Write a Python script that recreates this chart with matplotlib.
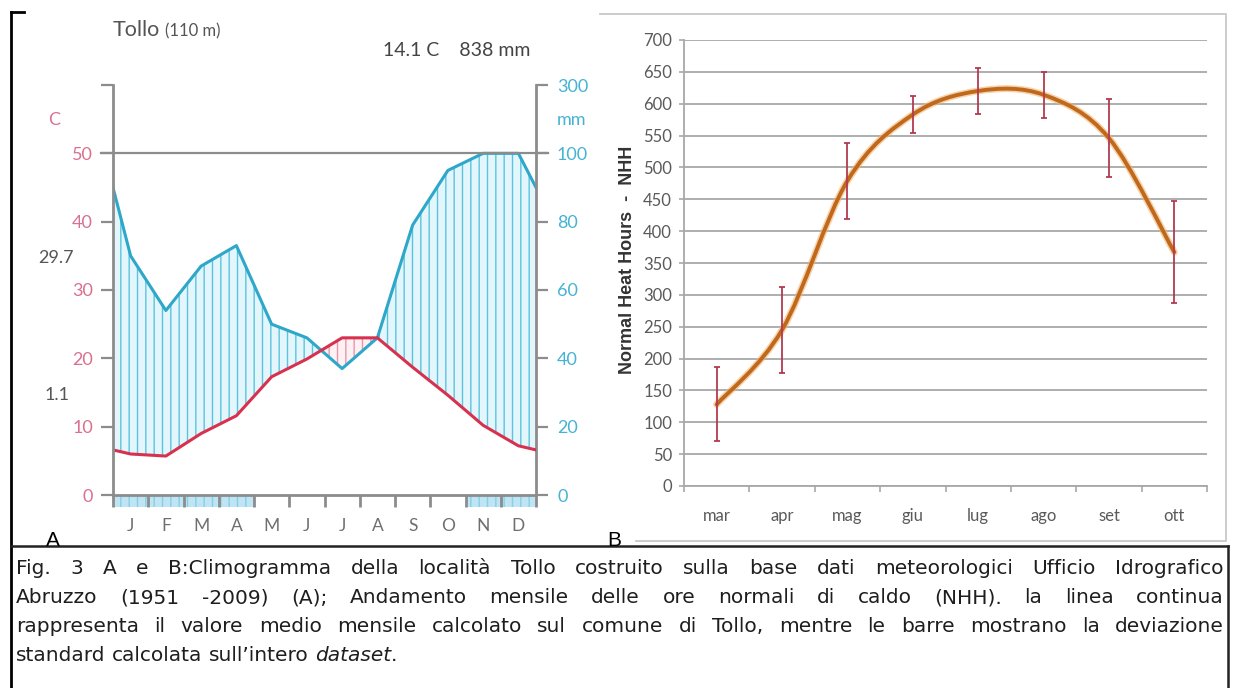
import numpy as np
import matplotlib
matplotlib.use("Agg")
import matplotlib.pyplot as plt
from matplotlib.path import Path
from matplotlib.patches import PathPatch
from matplotlib.lines import Line2D

# ---------------- data ----------------
# Panel A: climate diagram (Walter-Lieth style), Tollo
months = ["J", "F", "M", "A", "M", "J", "J", "A", "S", "O", "N", "D"]
temp_c = [6.0, 5.7, 9.0, 11.6, 17.3, 19.9, 23.0, 23.0, 18.7, 14.6, 10.2, 7.2]
precip_mm = [70, 54, 67, 73, 50, 46, 37, 46, 79, 95, 112, 110]
frost_months = [1, 1, 1, 1, 0, 0, 0, 0, 0, 0, 1, 1]
temp_ticks = [0, 10, 20, 30, 40, 50, 60]
temp_labels = ["0", "10", "20", "30", "40", "50", ""]
prec_ticks = [0, 20, 40, 60, 80, 100, 120]
prec_labels = ["0", "20", "40", "60", "80", "100", "300"]

# Panel B: Normal Heat Hours
nhh_months = ["mar", "apr", "mag", "giu", "lug", "ago", "set", "ott"]
nhh_mean = [128, 245, 479, 583, 620, 614, 546, 367]
nhh_sd = [58, 68, 60, 29, 36, 36, 61, 80]
nhh_ticks = list(range(0, 701, 50))

caption_lines = [
    "Fig. 3 A e B:Climogramma della località Tollo costruito sulla base dati meteorologici Ufficio Idrografico",
    "Abruzzo (1951 -2009) (A); Andamento mensile delle ore normali di caldo (NHH). la linea continua",
    "rappresenta il valore medio mensile calcolato sul comune di Tollo, mentre le barre mostrano la deviazione",
]
caption_last = [("standard", "normal"), ("calcolata", "normal"), ("sull\u2019intero", "normal"),
                ("dataset", "italic"), (".", "normal")]

# ---------------- figure ----------------
W, H = 1234, 688
plt.rcParams["font.family"] = ["Lato", "DejaVu Sans"]
plt.rcParams["hatch.linewidth"] = 1.0
fig = plt.figure(figsize=(W / 100, H / 100), dpi=100)
fig.patch.set_facecolor("white")


def fx(x):
    return x / W


def fy(y):
    return 1 - y / H


PT = 72 / 100  # px -> pt

GREY = "#8c8c8c"
PINK = "#d9708f"
CYAN = "#45b3d3"
RED = "#d8314f"
BLUE = "#2ea7c9"

# ---------------- panel A ----------------
axT = fig.add_axes([fx(113), fy(495), (536 - 113) / W, (495 - 85) / H])
axP = axT.twinx()
axT.set_zorder(axP.get_zorder() + 1)
axT.patch.set_visible(False)

MM_PER_C = 2  # Walter-Lieth convention: 10 C = 20 mm
centers = np.arange(12) + 0.5
x_line = np.r_[0, centers, 12]
t = np.array(temp_c)
p = np.array(precip_mm, dtype=float)
t_line = np.r_[(t[0] + t[-1]) / 2, t, (t[0] + t[-1]) / 2]
p_line = np.minimum(np.r_[(p[0] + p[-1]) / 2, p, (p[0] + p[-1]) / 2], 100)
t_mm = t_line * MM_PER_C

axP.fill_between(x_line, t_mm, p_line, where=p_line >= t_mm, interpolate=True,
                 facecolor="#e3f6fb", edgecolor="#5cc3df", hatch="||", linewidth=0)
axP.fill_between(x_line, t_mm, p_line, where=p_line < t_mm, interpolate=True,
                 facecolor="#fdf1f4", edgecolor="#e995ad", hatch="||", linewidth=0)
axP.plot(x_line, p_line, color=BLUE, lw=2.2, solid_joinstyle="round")
axT.plot(x_line, t_line, color=RED, lw=2.2, solid_joinstyle="round")

fm = np.array(frost_months, dtype=bool)
axT.bar(centers[fm], -1.75, width=1.0, bottom=0, facecolor="#bfe4f3",
        edgecolor="#86d0e6", hatch="||", linewidth=0, clip_on=False, zorder=1)

axT.axhline(50, xmin=-0.028, xmax=1.028, color=GREY, lw=1.6, clip_on=False, zorder=0.5)

axT.set_xlim(0, 12)
axT.set_ylim(0, 60)
axP.set_ylim(0, 120)

axT.set_yticks(temp_ticks)
axT.set_yticklabels(temp_labels)
axT.tick_params(axis="y", direction="out", length=12 * PT, width=1.6, color=GREY,
                labelcolor=PINK, labelsize=13, pad=8 * PT)
axP.set_yticks(prec_ticks)
axP.set_yticklabels(prec_labels)
axP.tick_params(axis="y", direction="out", length=12 * PT, width=1.6, color=GREY,
                labelcolor=CYAN, labelsize=13, pad=9 * PT)

axT.set_xticks(np.arange(13))
axT.set_xticklabels([])
axT.set_xticks(centers, minor=True)
axT.set_xticklabels(months, minor=True)
axT.tick_params(axis="x", which="major", direction="out", length=12 * PT, width=2.0, color=GREY)
axT.tick_params(axis="x", which="minor", length=0, pad=23 * PT, labelsize=12.5, labelcolor="#6f6f6f")
axP.tick_params(axis="x", which="both", length=0)

for s in ["top", "right"]:
    axT.spines[s].set_visible(False)
for s in ["left", "bottom"]:
    axT.spines[s].set_color(GREY)
    axT.spines[s].set_linewidth(2)
for s in ["left", "top", "bottom"]:
    axP.spines[s].set_visible(False)
axP.spines["right"].set_color(GREY)
axP.spines["right"].set_linewidth(2)

fig.text(fx(113), fy(30), "Tollo", fontsize=15.5, color="#555555", va="center", ha="left")
fig.text(fx(165), fy(31), "(110 m)", fontsize=12, color="#555555", va="center", ha="left")
fig.text(fx(383), fy(50), "14.1 C    838 mm", fontsize=14, color="#444444", va="center", ha="left")
fig.text(fx(74), fy(258), "29.7", fontsize=13, color="#555555", va="center", ha="right")
fig.text(fx(70), fy(395), "1.1", fontsize=13, color="#555555", va="center", ha="right")
fig.text(fx(54), fy(120), "C", fontsize=13, color=PINK, va="center", ha="center")
fig.text(fx(557), fy(120), "mm", fontsize=13, color=CYAN, va="center", ha="left")
fig.text(fx(53), fy(541), "A", fontsize=15, color="black", va="center", ha="center",
         family=["Liberation Sans", "DejaVu Sans"])

# ---------------- panel B ----------------
ax3 = fig.add_axes([fx(684), fy(486), (1207 - 684) / W, (486 - 40) / H])
xs = np.arange(len(nhh_months))
ax3.set_xlim(-0.5, len(nhh_months) - 0.5)
ax3.set_ylim(0, 700)
ax3.set_yticks(nhh_ticks)
ax3.yaxis.grid(True, color="#a8a8a8", lw=1.3)
ax3.set_axisbelow(True)
ax3.tick_params(axis="y", direction="out", length=5 * PT, width=1.2, color="#a8a8a8",
                labelcolor="#5a5a5a", labelsize=12, pad=7 * PT)
ax3.set_xticks(np.arange(len(nhh_months) + 1) - 0.5)
ax3.set_xticklabels([])
ax3.set_xticks(xs, minor=True)
ax3.set_xticklabels(nhh_months, minor=True)
ax3.tick_params(axis="x", which="major", direction="out", length=6 * PT, width=1.2, color="#a8a8a8")
ax3.tick_params(axis="x", which="minor", length=0, pad=22 * PT, labelsize=12, labelcolor="#5a5a5a")
for s in ["top", "right"]:
    ax3.spines[s].set_visible(False)
for s in ["left", "bottom"]:
    ax3.spines[s].set_color("#a8a8a8")
    ax3.spines[s].set_linewidth(1.3)

# smoothed line (Excel-like Catmull-Rom Bezier through the means)
pts = np.column_stack([xs, nhh_mean]).astype(float)
ext = np.vstack([pts[0], pts, pts[-1]])
verts = [pts[0]]
codes = [Path.MOVETO]
for i in range(len(pts) - 1):
    p0, p1, p2, p3 = ext[i], ext[i + 1], ext[i + 2], ext[i + 3]
    c1 = p1 + (p2 - p0) / 6
    c2 = p2 - (p3 - p1) / 6
    verts += [c1, c2, p2]
    codes += [Path.CURVE4] * 3
path = Path(verts, codes)
ax3.add_patch(PathPatch(path, facecolor="none", edgecolor="#f2b46f", lw=5, alpha=0.6,
                        transform=ax3.transData, zorder=3, capstyle="round"))
ax3.add_patch(PathPatch(path, facecolor="none", edgecolor="#c0681c", lw=2.8,
                        transform=ax3.transData, zorder=4, capstyle="round"))
ax3.errorbar(xs, nhh_mean, yerr=nhh_sd, fmt="none", ecolor="#b23a52", elinewidth=1.3,
             capsize=2.5, capthick=1.3, zorder=5)

fig.text(fx(628), fy(260), "Normal Heat Hours  -  NHH", rotation=90, fontsize=13,
         fontweight="bold", color="#333333", va="center", ha="center",
         family=["Liberation Sans", "DejaVu Sans"])
fig.text(fx(614), fy(541), "B", fontsize=15, color="black", va="center", ha="center",
         family=["Liberation Sans", "DejaVu Sans"])

# ---------------- frames ----------------
ov = fig.add_axes([0, 0, 1, 1], zorder=-5)
ov.set_xlim(0, W)
ov.set_ylim(H, 0)
ov.axis("off")
ov.add_line(Line2D([11, 11], [12, H], color="black", lw=2))
ov.add_line(Line2D([11, 24], [12, 12], color="black", lw=2))
ov.add_line(Line2D([11, 1228], [546, 546], color="#222222", lw=1.8))
ov.add_line(Line2D([1228, 1228], [546, H], color="#222222", lw=1.8))
ov.add_line(Line2D([600, 1226, 1226, 636], [14, 14, 541, 541], color="#c8c8c8", lw=1.3))

# ---------------- caption (justified) ----------------
renderer = fig.canvas.get_renderer()
cap_family = ["DejaVu Sans"]
x_left, x_right = 16, 1224
baselines = [574, 603, 632, 661]


def measure(s, fs, style="normal"):
    tt = fig.text(0, 0, s, fontsize=fs, family=cap_family, style=style)
    w = tt.get_window_extent(renderer).width
    tt.remove()
    return w


fs0 = 14.0
natural = max(measure(l, fs0) for l in caption_lines)
cap_fs = min(14.5, fs0 * (x_right - x_left) * 0.975 / natural)


def place_words(words, styles):
    objs = []
    total = 0
    for w, st in zip(words, styles):
        tt = fig.text(0, 0, w, fontsize=cap_fs, family=cap_family, style=st,
                      color="#1e1e1e", va="baseline", ha="left")
        wpx = tt.get_window_extent(renderer).width
        objs.append((tt, wpx))
        total += wpx
    return objs, total


for line, yb in zip(caption_lines, baselines):
    words = line.split(" ")
    objs, total = place_words(words, ["normal"] * len(words))
    gap = (x_right - x_left - total) / (len(words) - 1)
    x = x_left
    for tt, wpx in objs:
        tt.set_position((fx(x), fy(yb)))
        x += wpx + gap

space = measure("a a", cap_fs) - measure("aa", cap_fs)
objs, total = place_words([w for w, _ in caption_last], [s for _, s in caption_last])
x = x_left
for i, (tt, wpx) in enumerate(objs):
    tt.set_position((fx(x), fy(baselines[3])))
    nxt = caption_last[i + 1][0] if i + 1 < len(caption_last) else ""
    x += wpx + (0 if nxt == "." else space)

fig.savefig("out.png", dpi=100, facecolor="white")
